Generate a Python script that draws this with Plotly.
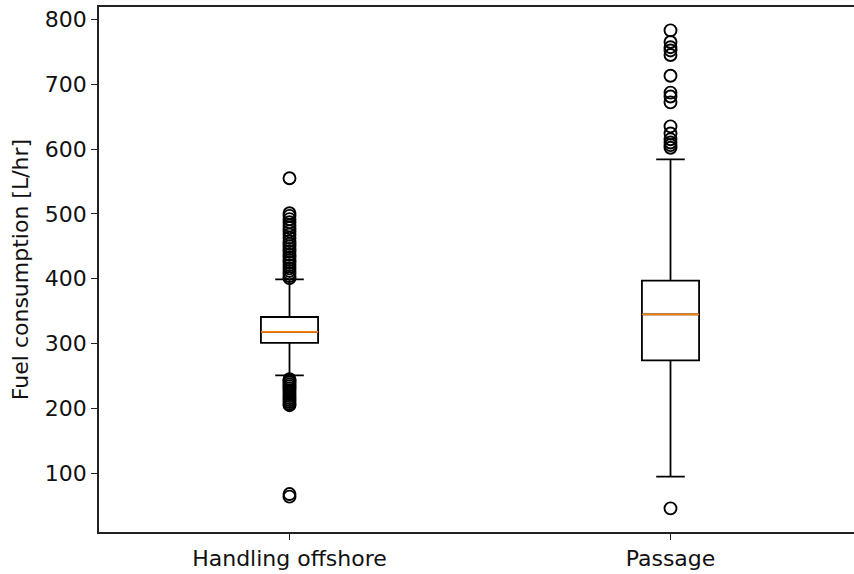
import plotly.graph_objects as go

categories = ["Handling offshore", "Passage"]
positions = [1, 2]
q1 = [301, 274]
median = [318, 345]
q3 = [341, 397]
lower_whisker = [251, 95]
upper_whisker = [399, 584]

outliers_handling = [555, 501, 497, 492, 487, 482, 478, 473, 468, 463, 458, 454, 450, 446, 442,
                     437, 433, 429, 425, 421, 416, 412, 408, 404, 401,
                     245, 243, 240, 237, 234, 231, 228, 225, 222, 219, 216, 213, 210, 207, 205,
                     68, 64]
outliers_passage = [783, 765, 757, 752, 745, 713, 687, 681, 672,
                    635, 624, 615, 610, 606, 602, 46]
outliers = [outliers_handling, outliers_passage]

box_width = 0.15

fig = go.Figure()
for i, pos in enumerate(positions):
    fig.add_trace(go.Box(
        x=[pos], q1=[q1[i]], median=[median[i]], q3=[q3[i]],
        lowerfence=[lower_whisker[i]], upperfence=[upper_whisker[i]],
        width=box_width, whiskerwidth=0.5, boxpoints=False,
        fillcolor="rgba(0,0,0,0)", line=dict(color="black", width=1.8),
        showlegend=False, hoverinfo="skip",
    ))
    fig.add_trace(go.Scatter(
        x=[pos - box_width / 2, pos + box_width / 2], y=[median[i], median[i]],
        mode="lines", line=dict(color="#ff7f0e", width=1.8), showlegend=False,
    ))
    fig.add_trace(go.Scatter(
        x=[pos] * len(outliers[i]), y=outliers[i], mode="markers",
        marker=dict(symbol="circle-open", size=12, color="black", line=dict(width=1.9)),
        showlegend=False,
    ))

font = dict(family="DejaVu Sans", size=22, color="#111111")
fig.update_layout(
    width=854, height=574,
    margin=dict(l=99, r=0, t=7, b=42),
    paper_bgcolor="white", plot_bgcolor="white",
    font=font,
    xaxis=dict(range=[0.5, 0.5 + 755 / 381], tickvals=positions, ticktext=categories,
               showline=True, linecolor="#222222", linewidth=1.5, mirror=True,
               ticks="outside", ticklen=6, tickwidth=1.4, tickcolor="#222222",
               showgrid=False, zeroline=False, tickfont=font),
    yaxis=dict(range=[9.5, 819], tickvals=[100, 200, 300, 400, 500, 600, 700, 800],
               showline=True, linecolor="#222222", linewidth=1.5, mirror=False,
               ticks="outside", ticklen=6, tickwidth=1.4, tickcolor="#222222",
               showgrid=False, zeroline=False, tickfont=font,
               title=dict(text="Fuel consumption [L/hr]", font=font, standoff=10)),
)

fig.write_html("out.html")
